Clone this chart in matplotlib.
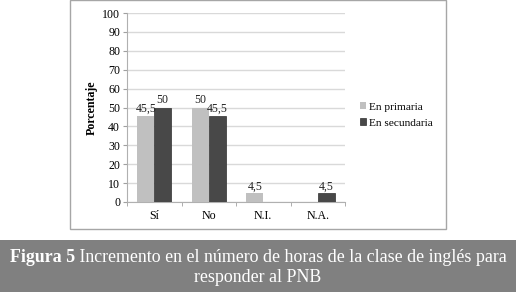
import matplotlib.pyplot as plt
import numpy as np
from matplotlib.patches import Rectangle

categories = ["Sí", "No", "N.I.", "N.A."]
primaria = [45.5, 50, 4.5, 0]
secundaria = [50, 45.5, 0, 4.5]
series_names = ["En primaria", "En secundaria"]

plt.rcParams['font.family'] = ['Liberation Serif', 'DejaVu Serif']

fig = plt.figure(figsize=(5.16, 2.92), dpi=100)

# chart frame and caption band, behind the axes
fig.patches.append(Rectangle((70 / 516, 1 - 229 / 292), 376 / 516, 229 / 292,
                             transform=fig.transFigure, facecolor="white",
                             edgecolor="#a6a6a6", lw=1, zorder=-5))
fig.patches.append(Rectangle((0, 0), 1, 52 / 292, transform=fig.transFigure,
                             facecolor="#808080", edgecolor="none", zorder=-5))

ax = fig.add_axes([127 / 516, 1 - 202 / 292, 218 / 516, 189 / 292])
ax.patch.set_alpha(0)
x = np.arange(len(categories))
w = 0.31
b1 = ax.bar(x - w / 2, primaria, w, color="#c0c0c0", label=series_names[0], zorder=3)
b2 = ax.bar(x + w / 2, secundaria, w, color="#484848", edgecolor="#303030", lw=0.5,
            label=series_names[1], zorder=3)

def fmt(v):
    return ("%g" % v).replace(".", ",")

fs = 8.6
for bars, vals in ((b1, primaria), (b2, secundaria)):
    for r, v in zip(bars, vals):
        if v > 0:
            ax.text(r.get_x() + r.get_width() / 2, v + 0.6, fmt(v), ha="center",
                    va="bottom", fontsize=fs, color="#222222")

ax.set_xlim(-0.5, len(categories) - 0.5)
ax.set_ylim(0, 100)
ax.set_yticks(range(0, 101, 10))
ax.set_xticks(x)
ax.set_xticklabels(categories)
ax.set_xticks(np.arange(-0.5, len(categories), 1), minor=True)
ax.tick_params(axis="x", which="major", length=0, pad=6, labelsize=fs)
ax.tick_params(axis="x", which="minor", length=3, color="#a0a0a0")
ax.tick_params(axis="y", length=3, color="#a0a0a0", labelsize=fs, pad=2)
ax.grid(axis="y", color="#d9d9d9", lw=1, zorder=0)
for s in ("top", "right"):
    ax.spines[s].set_visible(False)
ax.spines["left"].set_color("#b0b0b0")
ax.spines["bottom"].set_color("#b0b0b0")
ax.set_ylabel("Porcentaje", fontsize=fs, fontweight="bold", labelpad=3)

ax.legend(loc="center left", bbox_to_anchor=(1.02, 0.46), frameon=False,
          fontsize=8.2, handlelength=0.55, handleheight=0.55, handletextpad=0.3,
          labelspacing=0.55)

cap_fs = 12.9
line1a = fig.text(10 / 516, 1 - 258 / 292, "Figura 5", ha="left", va="center",
                  fontsize=cap_fs, color="white", fontweight="bold")
fig.canvas.draw()
bb = line1a.get_window_extent()
fig.text(bb.x1 / fig.bbox.width, 1 - 258 / 292,
         " Incremento en el número de horas de la clase de inglés para",
         ha="left", va="center", fontsize=cap_fs, color="white")
fig.text(0.5, 1 - 278 / 292, "responder al PNB", ha="center", va="center",
         fontsize=cap_fs, color="white")

fig.savefig("out.png", dpi=100)
